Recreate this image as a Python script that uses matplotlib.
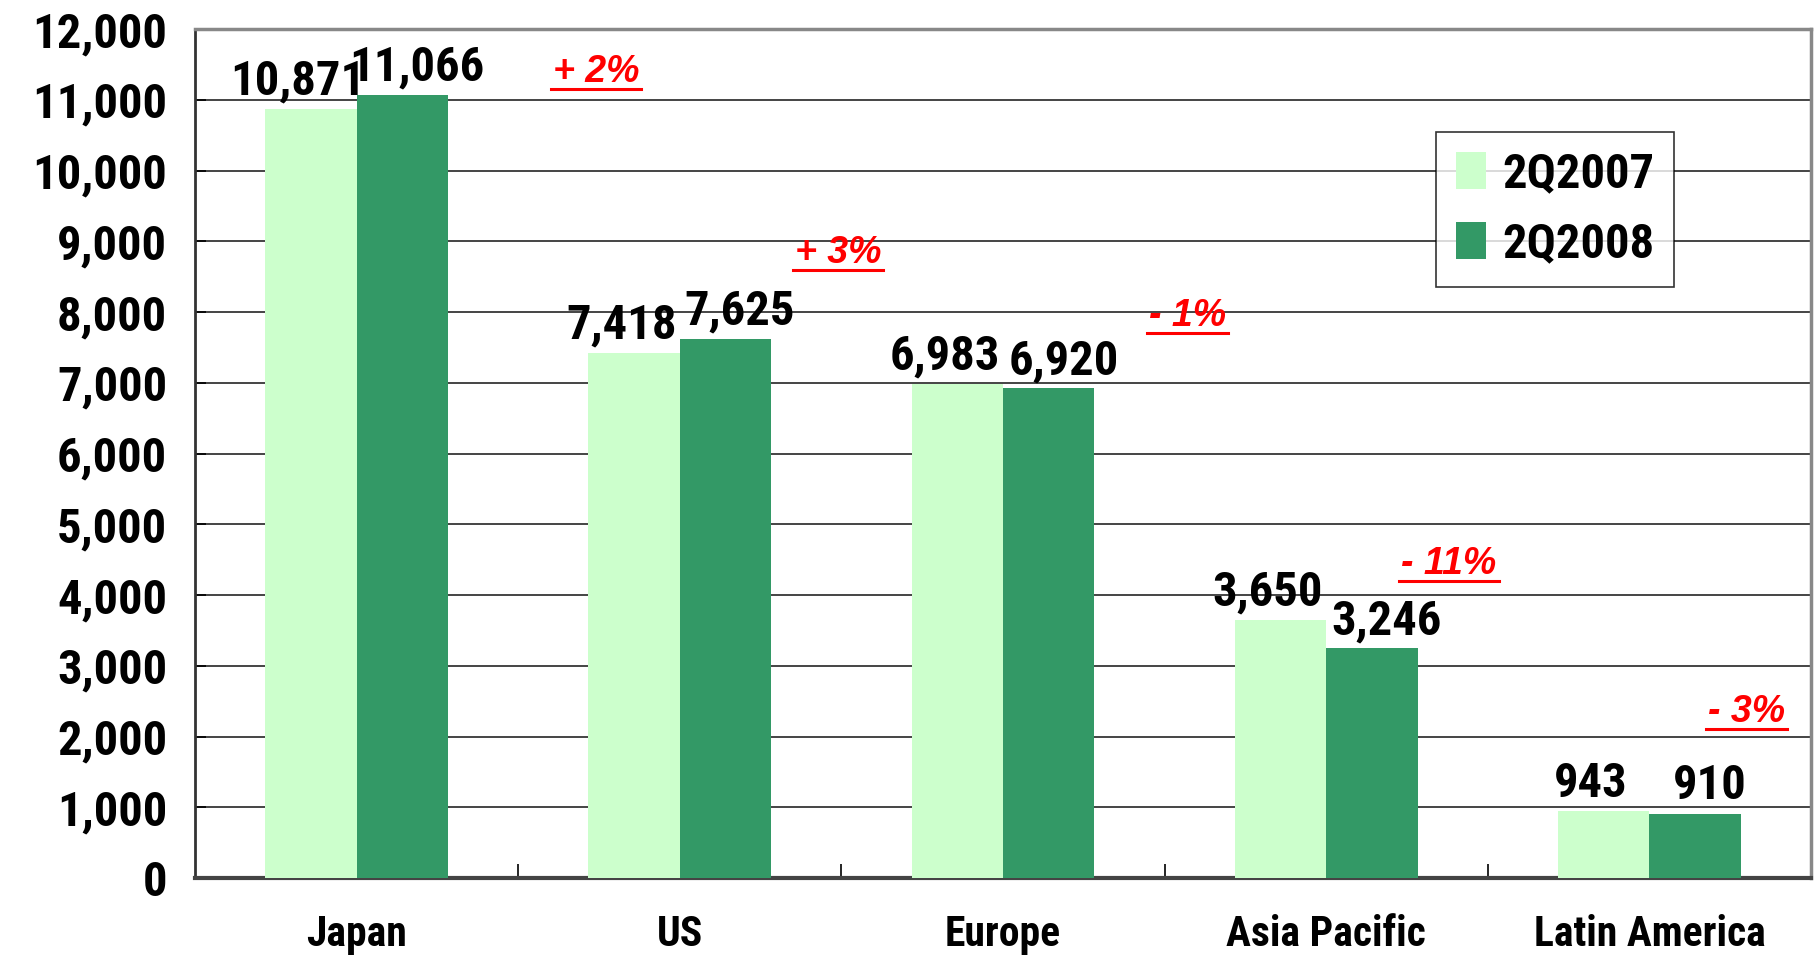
import numpy as np
import matplotlib
matplotlib.use("Agg")
import matplotlib.pyplot as plt
from matplotlib.lines import Line2D

# Data
regions = ["Japan", "US", "Europe", "Asia Pacific", "Latin America"]
q2_2007 = [10871, 7418, 6983, 3650, 943]
q2_2008 = [11066, 7625, 6920, 3246, 910]
change_labels = ["+ 2%", "+ 3%", "- 1%", "- 11%", "- 3%"]
# where the change labels sit (category units, value units)
change_x = [0.74, 1.49, 2.57, 3.38, 4.30]
change_y = [11390, 8840, 7940, 4440, 2340]

light = "#CCFFCC"
dark = "#339966"
narrow = ["Liberation Sans Narrow", "Arial Narrow", "Roboto Condensed",
          "Archivo Narrow", "PT Sans Narrow", "IBM Plex Sans Condensed",
          "DejaVu Sans"]

fig = plt.figure(figsize=(18.17, 9.57), dpi=100)
ax = fig.add_axes([195 / 1817, 1 - 878 / 957, 1616 / 1817, 849 / 957])

x = np.arange(len(regions))
w = 0.283
b1 = ax.bar(x - w / 2, q2_2007, w, color=light, label="2Q2007", zorder=3)
b2 = ax.bar(x + w / 2, q2_2008, w, color=dark, label="2Q2008", zorder=3)

# value labels, nudged apart a little like the original
for bars, vals, dx in [(b1, q2_2007, -0.04), (b2, q2_2008, 0.045)]:
    for r, v in zip(bars, vals):
        ax.text(r.get_x() + r.get_width() / 2 + dx, v + 60, f"{v:,}",
                ha="center", va="bottom", fontsize=35, fontweight="bold",
                family=narrow, zorder=5)

ax.set_xlim(-0.5, 4.5)
ax.set_ylim(0, 12000)
ax.set_yticks(range(0, 12001, 1000))
ax.set_yticklabels([f"{v:,}" for v in range(0, 12001, 1000)],
                   fontsize=35, fontweight="bold", family=narrow)
ax.set_xticks(x)
ax.set_xticklabels(regions, fontsize=30, fontweight="bold", family=narrow)
ax.tick_params(axis="x", length=0, pad=26)
ax.tick_params(axis="y", direction="in", length=8, width=1.2, pad=20)
ax.set_xticks(np.arange(0.5, 4.5, 1), minor=True)
ax.tick_params(axis="x", which="minor", direction="in", length=10, width=1.2)

ax.yaxis.grid(True, color="#444444", linewidth=1.4, zorder=0)
for side in ["top", "right"]:
    ax.spines[side].set_color("#888888")
    ax.spines[side].set_linewidth(2.5)
ax.spines["left"].set_color("#333333")
ax.spines["left"].set_linewidth(2)
ax.spines["bottom"].set_color("#444444")
ax.spines["bottom"].set_linewidth(3)

leg = ax.legend(loc="upper left", bbox_to_anchor=(0.768, 0.879),
                borderaxespad=0,
                prop={"family": narrow, "weight": "bold", "size": 35},
                frameon=True, fancybox=False, edgecolor="black",
                handlelength=0.62, handleheight=0.8, handletextpad=0.35,
                labelspacing=0.5, borderpad=0.4)
leg.get_frame().set_linewidth(1.2)

texts = []
for lbl, cx, cy in zip(change_labels, change_x, change_y):
    t = ax.text(cx, cy, lbl, ha="center", va="center", color="red",
                fontsize=27, fontweight="bold", fontstyle="italic",
                family=["Liberation Sans", "DejaVu Sans"], zorder=5)
    texts.append(t)

# underline the change labels
fig.canvas.draw()
renderer = fig.canvas.get_renderer()
inv = fig.transFigure.inverted()
for t in texts:
    bb = t.get_window_extent(renderer)
    (x0, y0) = inv.transform((bb.x0 - 2, bb.y0 + 1))
    (x1, _) = inv.transform((bb.x1 + 2, bb.y0 + 1))
    fig.add_artist(Line2D([x0, x1], [y0, y0], color="red", linewidth=2.2,
                          transform=fig.transFigure))

fig.savefig("out.png", dpi=100)
